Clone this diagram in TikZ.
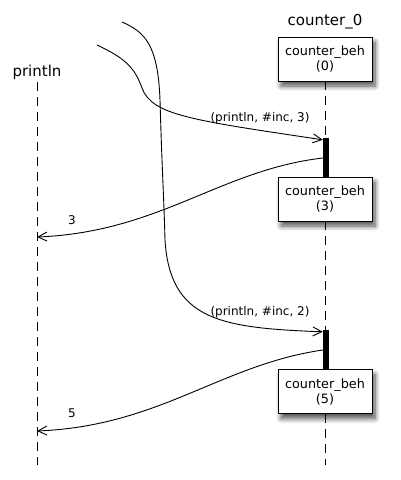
\documentclass[tikz,border=0pt]{standalone}
\usepackage{fontspec}
\setmainfont{DejaVu Sans}
\usepackage{tikz}
\usetikzlibrary{calc,arrows.meta,shadows.blur}

\begin{document}
\begin{tikzpicture}[x=1pt, y=-1pt,
    beh/.style={rectangle, draw=black, fill=white, line width=0.9pt,
                minimum width=94pt, minimum height=44pt, align=center,
                inner sep=0pt, font=\fontsize{12.8}{15}\selectfont,
                blur shadow={shadow xshift=3pt, shadow yshift=-5pt,
                             shadow blur steps=8, shadow blur radius=5pt,
                             shadow opacity=70}},
    act/.style={rectangle, fill=black, minimum width=6pt,
                minimum height=40pt, inner sep=0pt},
    life/.style={dash pattern=on 9pt off 6pt, line width=0.9pt},
    msg/.style={-{Straight Barb[length=9pt, width=9pt]}, line width=0.9pt},
    lbl/.style={font=\fontsize{12}{14}\selectfont}]

    \useasboundingbox (0,0) rectangle (400,480);

    % Actori
    \node[font=\fontsize{15}{17}\selectfont] (println) at (37,72) {println};
    \node[font=\fontsize{15}{17}\selectfont] (counter) at (325,22) {counter\_0};
    \coordinate (pend) at (37,465);
    \coordinate (cend) at (325,465);

    % Linii de viata
    \draw[life] (37,82) -- (pend);
    \draw[life] (325,81) -- (325,138);
    \draw[life] (325,221) -- (325,330);
    \draw[life] (325,414) -- (cend);

    % Activari si comportamente
    \node[act] (act1) at (326,158) {};
    \node[act] (act2) at (326,350) {};
    \node[beh] (beh0) at (325,59)    {counter\_beh\\(0)};
    \node[beh] (beh3) at (325,199)   {counter\_beh\\(3)};
    \node[beh] (beh5) at (325,391.5) {counter\_beh\\(5)};

    % Capete libere
    \coordinate (src1) at (97,45);
    \coordinate (src2) at (122,22);
    \coordinate (dst1) at (37,237);
    \coordinate (dst2) at (37,431);

    % Mesaje
    \draw[msg] (src1) .. controls (125,58) and (135,68) .. (142,88)
        .. controls (152,115) and (190,120) .. ([yshift=-2pt]act1.north west);
    \node[lbl] (m1) at (260,118) {(println, \#inc, 3)};

    \draw[msg] (src2) .. controls (145,32) and (158,45) .. (160,100)
        .. controls (162,170) and (164,200) .. (165,240)
        .. controls (170,320) and (220,328) .. ([yshift=-2pt]act2.north west);
    \node[lbl] (m2) at (260,312) {(println, \#inc, 2)};

    % Raspunsuri
    \draw[msg] (act1.west) .. controls (220,170) and (160,232) .. (dst1);
    \node[lbl] (r1) at (72,220) {3};

    \draw[msg] (act2.west) .. controls (220,365) and (160,426) .. (dst2);
    \node[lbl] (r2) at (72,413) {5};

\end{tikzpicture}
\end{document}
